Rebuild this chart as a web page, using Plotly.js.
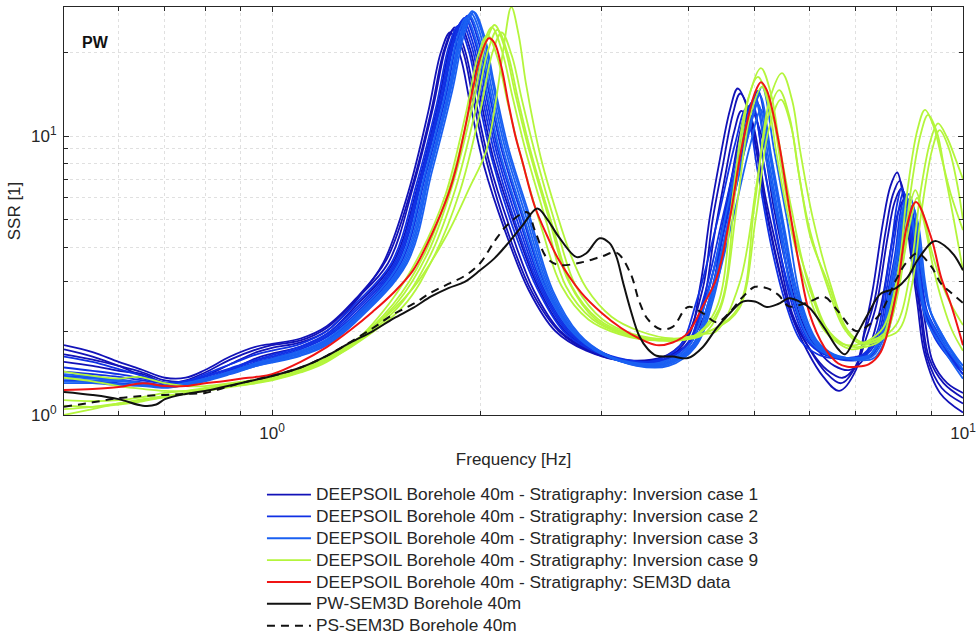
<!DOCTYPE html>
<html><head><meta charset="utf-8">
<script src="https://cdn.plot.ly/plotly-3.0.1.min.js"></script>
<style>html,body{margin:0;padding:0;background:#fff}#chart{width:977px;height:638px}</style>
</head><body><div id="chart"></div>
<script>
// ---------- DATA: [frequency Hz, SSR] pairs ----------
// Inversion case 1 (dark blue)
const c1a = [[0.5,1.78],[0.55,1.68],[0.6,1.55],[0.65,1.45],[0.7,1.36],[0.75,1.36],[0.8,1.45],[0.87,1.62],[0.95,1.76],[1.0,1.8],[1.1,1.88],[1.2,2.08],[1.32,2.6],[1.464,3.6],[1.592,6.5],[1.702,12.5],[1.775,20.4],[1.83,24],[1.894,19.7],[1.958,13.2],[2.05,7.9],[2.196,4.5],[2.38,2.75],[2.6,2.0],[2.9,1.68],[3.3,1.55],[3.7,1.58],[4.0,1.9],[4.17,2.95],[4.3,5.1],[4.45,8.3],[4.6,12.4],[4.72,14.8],[4.92,11.7],[5.13,6.4],[5.38,3.6],[5.62,2.35],[5.95,1.7],[6.28,1.37],[6.62,1.22],[7.0,1.45],[7.2,2.0],[7.4,2.8],[7.66,4.9],[7.85,6.6],[8.03,7.4],[8.2,6.0],[8.4,3.8],[8.59,2.5],[8.8,1.65],[9.26,1.2],[10,1.02]];
const c1b = [[0.5,1.65],[0.55,1.58],[0.6,1.5],[0.65,1.42],[0.7,1.33],[0.75,1.32],[0.8,1.38],[0.87,1.52],[0.95,1.68],[1.0,1.74],[1.1,1.82],[1.2,2.0],[1.32,2.55],[1.448,3.5],[1.575,6.3],[1.683,12.2],[1.756,20.0],[1.81,23.5],[1.873,19.3],[1.937,12.9],[2.027,7.8],[2.172,4.6],[2.353,2.8],[2.57,2.0],[2.85,1.7],[3.25,1.56],[3.65,1.6],[3.95,1.85],[4.203,2.85],[4.341,5.0],[4.489,7.8],[4.641,11.9],[4.76,14.2],[4.96,11.2],[5.174,6.1],[5.426,3.6],[5.664,2.3],[6.0,1.72],[6.33,1.42],[6.66,1.3],[7.0,1.5],[7.2,1.95],[7.452,2.6],[7.727,4.55],[7.914,6.15],[8.1,6.9],[8.27,5.6],[8.473,3.5],[8.667,2.35],[8.878,1.6],[9.315,1.25],[10,1.1]];
const c1c = [[0.5,1.55],[0.55,1.5],[0.6,1.44],[0.65,1.4],[0.7,1.3],[0.75,1.3],[0.8,1.34],[0.87,1.45],[0.95,1.6],[1.0,1.66],[1.1,1.76],[1.2,1.95],[1.32,2.45],[1.496,3.5],[1.627,6.7],[1.739,13],[1.814,21.3],[1.87,25],[1.935,20.5],[2.001,13.8],[2.094,8.2],[2.244,4.8],[2.431,2.85],[2.655,2.0],[2.95,1.68],[3.35,1.54],[3.75,1.6],[4.02,1.85],[4.221,2.6],[4.359,4.3],[4.508,6.8],[4.661,10.3],[4.78,12.3],[4.981,9.7],[5.196,5.3],[5.449,3.1],[5.688,2.2],[6.023,1.7],[6.357,1.45],[6.692,1.36],[7.0,1.5],[7.25,1.9],[7.498,2.5],[7.775,4.3],[7.963,5.8],[8.15,6.5],[8.321,5.3],[8.525,3.3],[8.72,2.25],[8.932,1.6],[9.373,1.3],[10,1.15]];
const c1d = [[0.5,1.72],[0.55,1.62],[0.6,1.5],[0.65,1.38],[0.7,1.3],[0.75,1.33],[0.8,1.42],[0.87,1.58],[0.95,1.72],[1.0,1.78],[1.1,1.85],[1.2,2.05],[1.32,2.58],[1.472,3.5],[1.601,6.6],[1.711,12.7],[1.785,20.8],[1.84,24.5],[1.904,20.1],[1.969,13.5],[2.061,8.1],[2.208,4.7],[2.392,2.8],[2.613,2.0],[2.9,1.7],[3.3,1.57],[3.7,1.62],[4.0,1.8],[4.327,2.7],[4.469,4.5],[4.621,7.0],[4.778,10.8],[4.9,12.8],[5.106,10.1],[5.326,5.5],[5.586,3.2],[5.831,2.2],[6.174,1.7],[6.517,1.5],[6.86,1.45],[7.2,1.6],[7.59,2.4],[7.87,4.0],[8.06,5.35],[8.25,6.0],[8.423,4.9],[8.63,3.1],[8.828,2.1],[9.042,1.55],[9.488,1.3],[10,1.2]];
// Inversion case 2 (blue)
const c2a = [[0.5,1.43],[0.55,1.4],[0.6,1.37],[0.65,1.33],[0.7,1.3],[0.75,1.32],[0.8,1.38],[0.87,1.47],[0.95,1.58],[1.0,1.64],[1.1,1.76],[1.2,1.95],[1.32,2.4],[1.504,3.5],[1.636,6.9],[1.748,13.3],[1.824,21.7],[1.88,25.5],[1.946,20.9],[2.012,14.0],[2.106,8.4],[2.256,4.8],[2.444,2.85],[2.67,2.0],[2.914,1.72],[3.234,1.57],[3.6,1.55],[3.96,1.75],[4.208,2.6],[4.505,5.3],[4.772,9.8],[4.95,13.2],[5.148,7.9],[5.381,4.4],[5.628,2.6],[5.94,1.85],[6.287,1.65],[6.584,1.6],[6.9,1.58],[7.216,1.65],[7.569,2.0],[7.749,2.8],[7.929,4.0],[8.077,5.5],[8.2,6.3],[8.364,5.4],[8.553,3.3],[8.733,2.5],[9.151,1.9],[9.512,1.65],[10,1.45]];
const c2b = [[0.5,1.38],[0.55,1.36],[0.6,1.34],[0.65,1.31],[0.7,1.28],[0.75,1.3],[0.8,1.35],[0.87,1.44],[0.95,1.55],[1.0,1.6],[1.1,1.72],[1.2,1.9],[1.32,2.3],[1.52,3.5],[1.653,7.2],[1.767,13.8],[1.843,22.5],[1.9,26.5],[1.967,21.7],[2.033,14.6],[2.128,8.7],[2.28,5.0],[2.47,2.85],[2.698,2.0],[2.945,1.7],[3.268,1.55],[3.6,1.53],[4.0,1.75],[4.25,2.6],[4.55,5.5],[4.82,10.2],[5.0,13.8],[5.2,8.3],[5.435,4.6],[5.685,2.6],[6.0,1.85],[6.35,1.65],[6.65,1.58],[7.0,1.57],[7.304,1.62],[7.661,2.0],[7.844,2.8],[8.026,3.8],[8.176,5.3],[8.3,6.0],[8.466,5.1],[8.657,3.2],[8.84,2.4],[9.263,1.9],[9.628,1.6],[10,1.4]];
const c2c = [[0.5,1.62],[0.55,1.55],[0.6,1.46],[0.65,1.38],[0.7,1.31],[0.75,1.32],[0.8,1.4],[0.87,1.52],[0.95,1.65],[1.0,1.7],[1.1,1.8],[1.2,2.0],[1.32,2.5],[1.488,3.5],[1.618,6.7],[1.73,12.9],[1.804,21.1],[1.86,24.8],[1.925,20.3],[1.99,13.6],[2.083,8.2],[2.232,4.7],[2.418,2.85],[2.641,2.0],[2.883,1.72],[3.2,1.58],[3.55,1.56],[3.88,1.75],[4.123,2.6],[4.414,5.0],[4.675,9.3],[4.85,12.5],[5.044,7.5],[5.272,4.1],[5.514,2.6],[5.82,1.85],[6.16,1.65],[6.45,1.6],[6.8,1.6],[7.172,1.65],[7.522,2.0],[7.702,2.8],[7.881,4.1],[8.028,5.7],[8.15,6.5],[8.313,5.5],[8.5,3.4],[8.68,2.6],[9.095,1.9],[9.454,1.65],[10,1.4]];
const c2d = [[0.5,1.33],[0.55,1.32],[0.6,1.3],[0.65,1.28],[0.7,1.26],[0.75,1.29],[0.8,1.33],[0.87,1.41],[0.95,1.52],[1.0,1.57],[1.1,1.68],[1.2,1.85],[1.32,2.25],[1.536,3.5],[1.67,7.3],[1.786,14.0],[1.862,23.0],[1.92,27.0],[1.987,22.1],[2.054,14.9],[2.15,8.9],[2.304,5.1],[2.496,2.85],[2.726,2.0],[2.976,1.7],[3.3,1.54],[3.65,1.52],[4.04,1.75],[4.293,2.6],[4.596,5.8],[4.868,10.7],[5.05,14.5],[5.252,8.7],[5.489,4.8],[5.742,2.6],[6.06,1.85],[6.414,1.65],[6.717,1.6],[7.0,1.58],[7.348,1.62],[7.707,2.0],[7.891,2.8],[8.074,3.7],[8.225,5.1],[8.35,5.8],[8.517,4.9],[8.709,3.1],[8.893,2.3],[9.319,1.85],[9.686,1.6],[10,1.45]];
const c2e = [[0.5,1.48],[0.55,1.44],[0.6,1.4],[0.65,1.35],[0.7,1.3],[0.75,1.31],[0.8,1.37],[0.87,1.46],[0.95,1.57],[1.0,1.62],[1.1,1.74],[1.2,1.92],[1.32,2.35],[1.512,3.5],[1.644,7.0],[1.758,13.5],[1.833,22.1],[1.89,26.0],[1.956,21.3],[2.022,14.3],[2.117,8.6],[2.268,4.9],[2.457,2.85],[2.684,2.0],[2.93,1.72],[3.25,1.58],[3.6,1.56],[3.984,1.78],[4.233,2.6],[4.532,4.8],[4.801,8.9],[4.98,12.0],[5.179,7.2],[5.413,4.0],[5.662,2.6],[5.976,1.85],[6.325,1.65],[6.62,1.6],[6.95,1.6],[7.26,1.65],[7.615,2.0],[7.796,2.8],[7.978,3.8],[8.126,5.4],[8.25,6.1],[8.415,5.2],[8.605,3.2],[8.786,2.45],[9.207,1.9],[9.57,1.65],[10,1.45]];
// Inversion case 3 (light blue)
const c3a = [[0.5,1.35],[0.55,1.33],[0.6,1.32],[0.65,1.3],[0.7,1.27],[0.75,1.3],[0.8,1.34],[0.87,1.42],[0.95,1.52],[1.0,1.56],[1.1,1.66],[1.2,1.82],[1.32,2.2],[1.552,3.5],[1.688,7.4],[1.804,14.3],[1.882,23.4],[1.94,27.5],[2.008,22.6],[2.076,15.1],[2.173,9.1],[2.328,5.2],[2.522,2.8],[2.755,1.95],[3.007,1.65],[3.337,1.52],[3.7,1.52],[4.064,1.75],[4.318,2.6],[4.623,5.6],[4.897,10.4],[5.08,14.0],[5.283,8.4],[5.522,4.6],[5.776,2.6],[6.096,1.85],[6.452,1.65],[6.756,1.6],[7.05,1.58],[7.392,1.62],[7.753,2.0],[7.938,2.8],[8.123,3.7],[8.274,5.2],[8.4,5.9],[8.568,5.0],[8.761,3.1],[8.946,2.4],[9.374,1.9],[9.744,1.6],[10,1.45]];
const c3b = [[0.5,1.3],[0.55,1.3],[0.6,1.28],[0.65,1.27],[0.7,1.25],[0.75,1.28],[0.8,1.32],[0.87,1.4],[0.95,1.5],[1.0,1.54],[1.1,1.63],[1.2,1.78],[1.32,2.15],[1.568,3.5],[1.705,7.5],[1.823,14.5],[1.901,23.6],[1.96,27.8],[2.029,22.8],[2.097,15.3],[2.195,9.2],[2.352,5.3],[2.548,2.8],[2.783,1.95],[3.038,1.65],[3.37,1.5],[3.75,1.5],[4.096,1.75],[4.352,2.6],[4.659,6.0],[4.936,11.1],[5.12,15.0],[5.325,9.0],[5.565,5.0],[5.821,2.6],[6.144,1.85],[6.502,1.65],[6.81,1.6],[7.1,1.57],[7.436,1.6],[7.799,2.0],[7.985,2.8],[8.171,3.5],[8.323,4.9],[8.45,5.6],[8.619,4.8],[8.813,3.0],[8.999,2.3],[9.43,1.85],[9.802,1.6],[10,1.5]];
const c3c = [[0.5,1.4],[0.55,1.37],[0.6,1.33],[0.65,1.3],[0.7,1.27],[0.75,1.29],[0.8,1.34],[0.87,1.43],[0.95,1.53],[1.0,1.58],[1.1,1.68],[1.2,1.84],[1.32,2.22],[1.544,3.5],[1.679,7.3],[1.795,14.0],[1.872,23.0],[1.93,27.0],[1.998,22.1],[2.065,14.9],[2.162,8.9],[2.316,5.1],[2.509,2.8],[2.741,1.95],[2.992,1.66],[3.32,1.53],[3.68,1.53],[4.04,1.75],[4.293,2.6],[4.596,5.2],[4.868,9.6],[5.05,13.0],[5.252,7.8],[5.489,4.3],[5.742,2.6],[6.06,1.85],[6.414,1.65],[6.717,1.6],[7.0,1.6],[7.348,1.65],[7.707,2.0],[7.891,2.8],[8.074,3.9],[8.225,5.5],[8.35,6.2],[8.517,5.3],[8.709,3.3],[8.893,2.5],[9.319,1.9],[9.686,1.65],[10,1.5]];
const c3d = [[0.5,1.32],[0.55,1.31],[0.6,1.29],[0.65,1.28],[0.7,1.26],[0.75,1.28],[0.8,1.33],[0.87,1.41],[0.95,1.5],[1.0,1.55],[1.1,1.64],[1.2,1.8],[1.32,2.18],[1.56,3.5],[1.697,7.6],[1.814,14.6],[1.892,23.8],[1.95,28.0],[2.018,23.0],[2.087,15.4],[2.184,9.2],[2.34,5.3],[2.535,2.8],[2.769,1.95],[3.023,1.65],[3.35,1.51],[3.72,1.51],[4.08,1.75],[4.335,2.6],[4.641,5.0],[4.916,9.2],[5.1,12.4],[5.304,7.4],[5.544,4.1],[5.799,2.6],[6.12,1.85],[6.477,1.65],[6.783,1.6],[7.0,1.58],[7.304,1.62],[7.661,2.0],[7.844,2.7],[8.026,3.5],[8.176,4.8],[8.3,5.5],[8.466,4.7],[8.657,2.9],[8.84,2.2],[9.263,1.8],[9.628,1.55],[10,1.35]];
const c3e = [[0.5,1.37],[0.55,1.35],[0.6,1.33],[0.65,1.3],[0.7,1.27],[0.75,1.3],[0.8,1.35],[0.87,1.43],[0.95,1.54],[1.0,1.59],[1.1,1.7],[1.2,1.87],[1.32,2.27],[1.528,3.5],[1.662,7.2],[1.776,13.8],[1.853,22.5],[1.91,26.5],[1.977,21.7],[2.044,14.6],[2.139,8.7],[2.292,5.0],[2.483,2.85],[2.712,2.0],[2.961,1.7],[3.285,1.55],[3.64,1.54],[4.0,1.75],[4.25,2.6],[4.55,5.4],[4.82,10.0],[5.0,13.5],[5.2,8.1],[5.435,4.5],[5.685,2.6],[6.0,1.85],[6.35,1.65],[6.65,1.6],[6.98,1.6],[7.286,1.62],[7.642,2.0],[7.825,2.8],[8.007,3.8],[8.156,5.3],[8.28,6.0],[8.446,5.1],[8.636,3.2],[8.818,2.4],[9.24,1.9],[9.605,1.65],[10,1.45]];
// Inversion case 9 (yellow-green)
const g1 = [[0.5,1.05],[0.55,1.07],[0.6,1.1],[0.65,1.13],[0.7,1.16],[0.75,1.19],[0.8,1.22],[0.87,1.26],[0.95,1.3],[1.0,1.33],[1.1,1.42],[1.2,1.55],[1.4,2.05],[1.6,2.85],[1.78,4.3],[1.93,6.5],[2.04,8.8],[2.11,13.5],[2.165,21],[2.22,29],[2.275,23],[2.33,15.5],[2.4,10.5],[2.46,8.0],[2.57,5.5],[2.7,3.8],[2.85,2.85],[3.1,2.25],[3.4,2.0],[3.8,1.88],[4.2,1.95],[4.4,2.0],[4.75,2.97],[5.03,6.8],[5.25,13.5],[5.47,16.8],[5.66,13.4],[5.81,8.9],[6.06,5.1],[6.42,2.97],[6.8,2.02],[7.18,1.81],[7.5,1.85],[8.0,2.1],[8.38,3.2],[8.68,6.3],[8.97,9.6],[9.2,11.1],[9.48,9.9],[9.75,8.3],[10,7.0]];
const g2 = [[0.5,1.43],[0.55,1.38],[0.6,1.35],[0.64,1.37],[0.7,1.3],[0.75,1.27],[0.8,1.27],[0.87,1.3],[0.95,1.34],[1.0,1.37],[1.1,1.47],[1.2,1.62],[1.3,1.8],[1.512,2.5],[1.68,3.8],[1.827,6.75],[1.953,13],[2.037,21.3],[2.1,25],[2.174,20.5],[2.247,14.3],[2.352,9.0],[2.52,5.0],[2.688,3.0],[2.94,2.2],[3.255,1.95],[3.675,1.85],[4.095,1.92],[4.437,2.4],[4.692,6.65],[4.896,13.7],[5.1,17.5],[5.279,14],[5.432,9.1],[5.636,5.6],[5.967,2.97],[6.324,2.05],[6.681,1.8],[7.0,1.78],[7.3,1.85],[7.66,2.05],[8.03,3.1],[8.31,6.4],[8.59,10.5],[8.81,12.4],[9.07,10.8],[9.34,8.1],[9.6,6.2],[10,4.6]];
const g3 = [[0.5,1.0],[0.55,1.05],[0.6,1.1],[0.65,1.14],[0.7,1.17],[0.75,1.2],[0.8,1.23],[0.87,1.27],[0.95,1.31],[1.0,1.34],[1.1,1.44],[1.2,1.58],[1.3,1.76],[1.526,2.45],[1.696,3.75],[1.844,6.5],[1.972,12.5],[2.056,20.4],[2.12,24],[2.194,19.7],[2.268,13.7],[2.374,8.6],[2.544,4.8],[2.714,2.9],[2.968,2.2],[3.286,1.95],[3.71,1.85],[4.134,1.92],[4.715,2.4],[4.986,5.5],[5.203,11.4],[5.42,14.6],[5.61,11.7],[5.772,7.6],[5.989,4.7],[6.341,2.97],[6.721,2.05],[7.1,1.8],[7.4,1.85],[7.74,2.0],[8.11,3.0],[8.39,6.2],[8.68,10.1],[8.9,11.9],[9.17,10.3],[9.43,7.2],[9.7,5.0],[10,3.3]];
const g4 = [[0.5,1.36],[0.55,1.32],[0.6,1.27],[0.65,1.24],[0.7,1.22],[0.75,1.22],[0.8,1.24],[0.87,1.28],[0.95,1.32],[1.0,1.35],[1.1,1.45],[1.2,1.6],[1.3,1.78],[1.476,2.5],[1.64,3.8],[1.784,6.2],[1.907,12.0],[1.989,19.6],[2.05,23],[2.122,18.9],[2.194,13.1],[2.296,8.3],[2.46,4.6],[2.624,2.9],[2.87,2.2],[3.178,1.95],[3.588,1.85],[4.0,1.9],[4.4,2.05],[4.742,2.4],[5.014,5.1],[5.232,10.5],[5.45,13.5],[5.641,10.8],[5.804,7.0],[6.022,4.3],[6.377,2.97],[6.758,2.05],[7.14,1.82],[7.45,1.87],[8.05,2.0],[8.43,2.9],[8.72,5.5],[9.02,8.9],[9.25,10.5],[9.53,9.1],[9.8,6.8],[10,5.0]];
const g5 = [[0.5,1.13],[0.55,1.12],[0.6,1.13],[0.65,1.16],[0.7,1.2],[0.75,1.22],[0.8,1.25],[0.87,1.29],[0.95,1.33],[1.0,1.36],[1.1,1.46],[1.2,1.61],[1.3,1.79],[1.498,2.5],[1.664,3.8],[1.81,6.6],[1.934,12.7],[2.018,20.8],[2.08,24.5],[2.153,20.1],[2.226,14.0],[2.33,8.8],[2.496,4.9],[2.662,2.9],[2.912,2.2],[3.224,1.95],[3.64,1.85],[4.056,1.9],[4.394,2.4],[4.646,6.2],[4.848,12.7],[5.05,16.3],[5.227,13.0],[5.378,8.5],[5.58,5.2],[5.909,2.97],[6.262,2.05],[6.616,1.8],[6.9,1.72],[7.2,1.75],[7.6,1.85],[7.9,2.5],[8.15,3.8],[8.35,5.4],[8.53,6.4],[8.75,5.3],[9.0,3.9],[9.3,3.0],[9.6,2.5],[10,2.1]];
const g6 = [[0.5,1.08],[0.55,1.07],[0.6,1.09],[0.65,1.12],[0.7,1.16],[0.75,1.2],[0.8,1.23],[0.87,1.27],[0.95,1.31],[1.0,1.34],[1.1,1.43],[1.2,1.57],[1.3,1.75],[1.548,2.45],[1.72,3.75],[1.871,6.35],[2.0,12.2],[2.086,20.0],[2.15,23.5],[2.225,19.3],[2.301,13.4],[2.408,8.5],[2.58,4.7],[2.752,2.9],[3.01,2.2],[3.333,1.95],[3.763,1.87],[4.193,1.93],[4.454,2.4],[4.71,5.7],[4.915,11.7],[5.12,15.0],[5.299,12.0],[5.453,7.8],[5.658,4.8],[5.99,2.97],[6.349,2.05],[6.707,1.8],[7.0,1.75],[7.3,1.8],[7.7,1.9],[8.0,2.6],[8.2,3.6],[8.4,5.0],[8.58,6.0],[8.8,4.8],[9.05,3.4],[9.35,2.5],[9.65,2.0],[10,1.7]];
// SEM3D data stratigraphy (red)
const semRed = [[0.5,1.23],[0.55,1.24],[0.6,1.26],[0.65,1.3],[0.7,1.27],[0.75,1.27],[0.8,1.3],[0.85,1.32],[0.9,1.35],[0.95,1.37],[1.0,1.4],[1.1,1.55],[1.2,1.75],[1.3,2.02],[1.4,2.35],[1.5,2.75],[1.6,3.3],[1.7,4.4],[1.8,6.2],[1.85,7.8],[1.9,10.5],[1.95,14.5],[2.0,19.0],[2.06,22.4],[2.1,21.5],[2.15,17.5],[2.2,13.0],[2.25,10.0],[2.3,8.2],[2.4,5.6],[2.5,4.4],[2.6,3.6],[2.8,2.75],[3.0,2.32],[3.2,2.05],[3.4,1.88],[3.6,1.78],[3.8,1.82],[4.0,1.97],[4.2,2.45],[4.4,3.1],[4.6,5.1],[4.8,9.5],[5.0,14.3],[5.1,15.6],[5.2,14.6],[5.4,9.8],[5.6,5.6],[5.8,3.4],[6.0,2.3],[6.3,1.75],[6.6,1.53],[6.8,1.49],[7.0,1.49],[7.3,1.52],[7.6,1.68],[8.0,2.7],[8.3,4.8],[8.55,5.8],[9.0,4.3],[9.3,3.1],[9.6,2.5],[10,1.78]];
// PW-SEM3D Borehole 40m (black solid)
const pwSem = [[0.5,1.21],[0.55,1.18],[0.6,1.14],[0.65,1.08],[0.68,1.09],[0.7,1.14],[0.75,1.19],[0.8,1.22],[0.85,1.26],[0.9,1.3],[0.95,1.34],[1.0,1.38],[1.1,1.48],[1.2,1.63],[1.3,1.82],[1.4,2.0],[1.5,2.22],[1.6,2.42],[1.7,2.66],[1.8,2.85],[1.9,3.0],[2.0,3.3],[2.1,3.65],[2.2,4.15],[2.3,4.75],[2.42,5.5],[2.5,5.05],[2.6,4.35],[2.76,3.68],[2.85,3.8],[2.98,4.3],[3.08,4.13],[3.15,3.7],[3.22,3.0],[3.3,2.4],[3.4,1.92],[3.5,1.72],[3.6,1.63],[3.8,1.62],[4.0,1.6],[4.2,1.75],[4.4,2.05],[4.6,2.32],[4.8,2.55],[5.0,2.55],[5.2,2.44],[5.4,2.5],[5.6,2.62],[5.8,2.55],[6.0,2.42],[6.3,2.05],[6.6,1.72],[6.75,1.65],[7.0,1.92],[7.3,2.32],[7.6,2.72],[8.0,2.85],[8.3,3.1],[8.6,3.6],[9.0,4.15],[9.15,4.2],[9.4,4.05],[9.7,3.75],[10,3.3]];
// PS-SEM3D Borehole 40m (black dashed)
const psSem = [[0.5,1.07],[0.55,1.11],[0.6,1.15],[0.65,1.17],[0.7,1.18],[0.75,1.19],[0.8,1.2],[0.85,1.25],[0.9,1.3],[0.95,1.34],[1.0,1.38],[1.1,1.48],[1.2,1.63],[1.3,1.83],[1.4,2.05],[1.5,2.3],[1.6,2.5],[1.7,2.75],[1.8,2.95],[1.9,3.15],[2.0,3.5],[2.1,4.2],[2.2,4.85],[2.34,5.33],[2.4,4.6],[2.5,3.65],[2.6,3.45],[2.8,3.52],[3.0,3.7],[3.15,3.82],[3.3,3.23],[3.4,2.55],[3.5,2.2],[3.65,2.03],[3.8,2.07],[4.0,2.44],[4.2,2.32],[4.4,2.15],[4.6,2.34],[4.8,2.65],[5.0,2.88],[5.2,2.85],[5.4,2.7],[5.6,2.45],[5.8,2.48],[6.0,2.55],[6.3,2.65],[6.6,2.35],[7.0,2.0],[7.3,2.1],[7.6,2.32],[8.0,3.05],[8.3,3.55],[8.6,3.8],[9.0,3.4],[9.3,2.95],[9.6,2.75],[10,2.52]];

const seriesNames = [
  'DEEPSOIL Borehole 40m - Stratigraphy: Inversion case 1',
  'DEEPSOIL Borehole 40m - Stratigraphy: Inversion case 2',
  'DEEPSOIL Borehole 40m - Stratigraphy: Inversion case 3',
  'DEEPSOIL Borehole 40m - Stratigraphy: Inversion case 9',
  'DEEPSOIL Borehole 40m - Stratigraphy: SEM3D data',
  'PW-SEM3D Borehole 40m',
  'PS-SEM3D Borehole 40m'
];
const xMajorTicks = [1, 10];
const xMajorLabels = ['10<sup>0</sup>', '10<sup>1</sup>'];
const xMinorTicks = [0.6,0.7,0.8,0.9,2,3,4,5,6,7,8,9];
const yMajorTicks = [1, 10];
const yMajorLabels = ['10<sup>0</sup>', '10<sup>1</sup>'];
const yMinorTicks = [2,3,4,5,6,7,8,9,20];

// ---------- STYLE ----------
const groups = [
  {curves:[c1a,c1b,c1c,c1d], color:'#1212b8', width:1.8},
  {curves:[c2a,c2b,c2c,c2d,c2e], color:'#1030e4', width:1.8},
  {curves:[c3a,c3b,c3c,c3d,c3e], color:'#1a60f2', width:1.8},
  {curves:[g1,g2,g3,g4,g5,g6], color:'#b4f53c', width:1.8},
  {curves:[semRed], color:'#f01414', width:2},
  {curves:[pwSem], color:'#111111', width:2},
  {curves:[psSem], color:'#111111', width:2, dash:'8px,6px'}
];

const traces = [];
groups.forEach((g, gi) => {
  g.curves.forEach((c, ci) => {
    traces.push({
      type:'scatter', mode:'lines',
      x:c.map(p=>p[0]), y:c.map(p=>p[1]),
      name:'<span style="font-size:17.3px">' + seriesNames[gi] + '</span>',
      legendgroup:'g'+gi, showlegend:ci===0,
      line:{color:g.color, width:g.width, shape:'spline', smoothing:1, dash:g.dash||'solid'},
      hoverinfo:'skip'
    });
  });
});

const FONT = 'Liberation Sans, Arial, Helvetica, sans-serif';
const GRID = 'rgba(0,0,0,0.12)';
const axisCommon = {
  type:'log', showline:true, linecolor:'#262626', linewidth:1, mirror:'ticks',
  ticks:'inside', ticklen:5, tickcolor:'#262626', tickwidth:1, ticklabelstandoff:3,
  showgrid:true, gridcolor:GRID, griddash:'dot', gridwidth:1,
  zeroline:false, tickmode:'array', tickfont:{size:17, color:'#262626', family:FONT}
};
const layout = {
  width:977, height:638,
  margin:{l:64, r:14, t:7, b:223, autoexpand:false},
  paper_bgcolor:'#ffffff', plot_bgcolor:'#ffffff',
  font:{family:FONT, color:'#262626', size:17},
  showlegend:true,
  xaxis:Object.assign({}, axisCommon, {
    range:[Math.log10(0.5), 1], tickvals:xMajorTicks, ticktext:xMajorLabels,
    minor:{tickmode:'array', tickvals:xMinorTicks, ticks:'inside', ticklen:4, tickcolor:'#262626',
           showgrid:true, gridcolor:GRID, griddash:'dot', gridwidth:1},
    title:{text:'Frequency [Hz]', font:{size:17, color:'#262626'}, standoff:10}
  }),
  yaxis:Object.assign({}, axisCommon, {
    range:[0, Math.log10(29)], tickvals:yMajorTicks, ticktext:yMajorLabels,
    minor:{tickmode:'array', tickvals:yMinorTicks, ticks:'inside', ticklen:4, tickcolor:'#262626',
           showgrid:true, gridcolor:GRID, griddash:'dot', gridwidth:1},
    title:{text:'SSR [1]', font:{size:17, color:'#262626'}, standoff:6}
  }),
  legend:{
    x:0.2202, xanchor:'left', y:-0.156, yanchor:'top',
    bgcolor:'rgba(255,255,255,0)', borderwidth:0,
    font:{size:14.5, color:'#262626', family:FONT},
    itemwidth:44, tracegroupgap:0, traceorder:'normal'
  },
  annotations:[{
    text:'<b>PW</b>', xref:'paper', yref:'paper', x:0.0178, y:0.914,
    xanchor:'left', yanchor:'middle', showarrow:false,
    font:{size:16, color:'#111111', family:FONT}
  }]
};

Plotly.newPlot('chart', traces, layout, {displayModeBar:false, staticPlot:true});
</script>
</body></html>
